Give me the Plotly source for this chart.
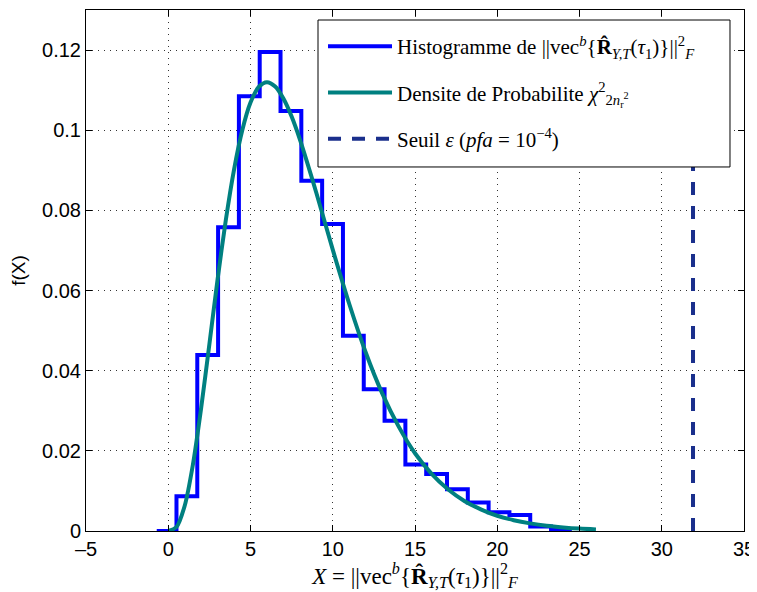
import plotly.graph_objects as go

# Histogram (stairs)
hist_x = [-0.7, 0.5, 1.765, 3.03, 4.295, 5.56, 6.825, 8.09, 9.355, 10.62, 11.885,
          13.15, 14.415, 15.68, 16.945, 18.21, 19.475, 20.74, 22.005, 23.27, 24.535]
hist_y = [0.0, 0.0087, 0.0439, 0.0758, 0.1085, 0.1195, 0.1048, 0.0874, 0.0766, 0.0487,
          0.0354, 0.0275, 0.0166, 0.0142, 0.0104, 0.0071, 0.0047, 0.0040, 0.0011, 0.0004, 0.0004]

# Density curve
pdf_x = [0, 0.5, 1, 1.5, 2, 2.5, 3, 3.5, 4, 4.5, 5, 5.5, 6, 6.5, 7, 7.5, 8, 9, 10, 11,
         12, 13, 14, 15, 16, 17, 18, 19, 20, 21, 22, 23, 24, 25, 26]
pdf_y = [0.0, 0.0010, 0.0063, 0.0166, 0.0307, 0.0466, 0.0628, 0.0776, 0.0902, 0.1000,
         0.1069, 0.1108, 0.1120, 0.1109, 0.1079, 0.1034, 0.0977, 0.0844, 0.0702, 0.0567,
         0.0446, 0.0344, 0.0261, 0.0194, 0.0143, 0.0104, 0.0075, 0.0054, 0.0038, 0.0027,
         0.0019, 0.0013, 0.0009, 0.0006, 0.0004]

threshold_x = [31.9, 31.9]
threshold_y = [0.0, 0.12]

x_ticks = [-5, 0, 5, 10, 15, 20, 25, 30, 35]
x_ticklabels = ["\u20135", "0", "5", "10", "15", "20", "25", "30", "35"]
y_ticks = [0, 0.02, 0.04, 0.06, 0.08, 0.10, 0.12]
y_ticklabels = ["0", "0.02", "0.04", "0.06", "0.08", "0.1", "0.12"]

serif = "Liberation Serif, DejaVu Serif, serif"
sans = "Liberation Sans, Arial, sans-serif"

fig = go.Figure()
fig.add_trace(go.Scatter(
    x=hist_x, y=hist_y, mode="lines", line=dict(color="#0000ff", width=4, shape="hv"),
    name="Histogramme de ||vec<sup><i>b</i></sup>{<b>R\u0302</b><sub><i>Y,T</i></sub>(<i>\u03c4</i><sub>1</sub>)}||<sup>2</sup><sub><i>F</i></sub>",
    legendgroup="a"))
fig.add_trace(go.Scatter(
    x=pdf_x, y=pdf_y, mode="lines", line=dict(color="#008080", width=4, shape="spline", smoothing=0.8),
    name="Densite de Probabilite <i>\u03c7</i><sup>2</sup><sub>2<i>n</i><sub>r</sub><sup>2</sup></sub>",
    legendgroup="b"))
fig.add_trace(go.Scatter(
    x=threshold_x, y=threshold_y, mode="lines", line=dict(color="#1a2f8c", width=4, dash="13px,11px"),
    name="Seuil <i>\u03b5</i> (<i>pfa</i> = 10<sup>\u22124</sup>)",
    legendgroup="c"))

axis_common = dict(
    showline=True, linecolor="black", linewidth=1, mirror="ticks",
    ticks="inside", ticklen=6, tickcolor="black",
    showgrid=True, gridcolor="#333333", gridwidth=1, griddash="1px,5px",
    zeroline=False, tickfont=dict(family=sans, size=20, color="black"),
)

fig.update_xaxes(range=[-5, 35], tickvals=x_ticks, ticktext=x_ticklabels,
                 title=dict(text="<i>X</i> = ||vec<sup><i>b</i></sup>{<b>R\u0302</b><sub><i>Y,T</i></sub>(<i>\u03c4</i><sub>1</sub>)}||<sup>2</sup><sub><i>F</i></sub>",
                            font=dict(family=serif, size=23, color="black"), standoff=3),
                 **axis_common)
fig.update_yaxes(range=[0, 0.13], tickvals=y_ticks, ticktext=y_ticklabels,
                 title=dict(text="f(X)", font=dict(family=sans, size=19, color="black"), standoff=11),
                 **axis_common)

# legend frame (white box over the plot)
fig.add_shape(type="rect", xref="paper", yref="paper",
              x0=0.3526, x1=0.9787, y0=0.6987, y1=0.9808,
              line=dict(color="black", width=1), fillcolor="white", layer="above")

fig.update_layout(
    width=749, height=584,
    margin=dict(l=78, r=13, t=2, b=61),
    plot_bgcolor="white", paper_bgcolor="white",
    legend=dict(x=0.3602, y=0.9693, xanchor="left", yanchor="top",
                bgcolor="rgba(0,0,0,0)", borderwidth=0,
                font=dict(family=serif, size=21, color="black"),
                itemwidth=64, tracegroupgap=16, traceorder="grouped"),
)

fig.write_html("out.html")
